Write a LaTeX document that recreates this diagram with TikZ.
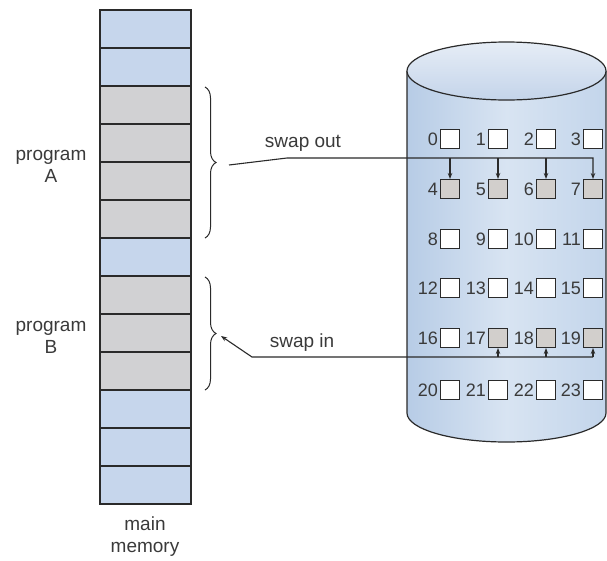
\documentclass[tikz,border=0pt]{standalone}
\usepackage{fontspec}
\setmainfont{Liberation Sans}
\usetikzlibrary{arrows.meta,decorations.pathreplacing}

\definecolor{ink}{HTML}{2A2A2A}
\definecolor{txt}{HTML}{3A3A3A}
\definecolor{memblue}{HTML}{C6D6EC}
\definecolor{memgray}{HTML}{D1D1D3}
\definecolor{cellgray}{HTML}{D2CFCC}
\definecolor{cylleft}{HTML}{B7CCE6}
\definecolor{cylmid}{HTML}{D8E4F2}
\definecolor{cylright}{HTML}{C3D5EB}
\definecolor{toplight}{HTML}{E6EDF6}
\definecolor{topdark}{HTML}{C4D4EA}

\tikzset{
  memrow/.style={draw=ink, line width=1.3pt, minimum width=91pt, minimum height=38pt, inner sep=0pt, outer sep=0pt},
  cell/.style={draw=ink, line width=1pt, fill=white, minimum width=19pt, minimum height=19pt, inner sep=0pt},
  used/.style={fill=cellgray},
  num/.style={text=txt, font=\fontsize{18}{20}\selectfont, inner sep=0pt, anchor=east},
  lbl/.style={text=txt, font=\fontsize{19}{22}\selectfont, align=center, inner sep=0pt},
  brc/.style={draw=ink, line width=1pt, decorate, decoration={brace, amplitude=11pt}},
  conn/.style={draw=ink, line width=1.1pt},
  tip/.style={-{Stealth[length=6pt,width=4.5pt]}}
}

\begin{document}
\begin{tikzpicture}[x=1pt, y=-1pt]
\useasboundingbox (0,0) rectangle (607,560);

% main memory column
\foreach \c [count=\i] in {memblue,memblue,memgray,memgray,memgray,memgray,memblue,memgray,memgray,memgray,memblue,memblue,memblue}
  \node[memrow, fill=\c] (m\i) at (145.5, {10 + 38*(\i-0.5)}) {};

% braces grouping the two programs
\coordinate (a1) at (205,87);
\coordinate (a2) at (205,238);
\coordinate (b1) at (205,277);
\coordinate (b2) at (205,390);
\draw[brc] (a1) -- (a2);
\draw[brc] (b1) -- (b2);

\node[lbl] (pA) at (51,166) {program\\A};
\node[lbl] (pB) at (51,337) {program\\B};
\node[lbl] (mm) at (145,537) {main\\memory};

% backing store cylinder
\shade[left color=cylleft, right color=cylright, middle color=cylmid]
  (407,71) -- (407,413) arc[start angle=180, end angle=360, x radius=99.5pt, y radius=29pt] -- (606,71) -- cycle;
\draw[ink, line width=1.2pt]
  (407,71) -- (407,413) arc[start angle=180, end angle=360, x radius=99.5pt, y radius=29pt] -- (606,71);
\draw[ink, line width=1.2pt, top color=toplight, bottom color=topdark]
  (506.5,71) ellipse[x radius=99.5pt, y radius=29pt];

% blocks of the backing store
\foreach \r in {0,...,5} {
  \foreach \k in {0,...,3} {
    \pgfmathtruncatemacro{\n}{4*\r+\k}
    \pgfmathsetmacro{\yy}{{139,189,239,288,338,390}[\r]}
    \pgfmathsetmacro{\xx}{{450,498,546,593}[\k]}
    \node[cell] (c\n) at (\xx,\yy) {};
    \node[num] (n\n) at ([xshift=-2pt]c\n.west) {\n};
  }
}
\foreach \n in {4,5,6,7,17,18,19} \node[cell, used] at (c\n) {};

% swap out
\coordinate (soStart) at (229,165);
\coordinate (soBend) at (287,158);
\draw[conn, tip] (soStart) -- (soBend) -- (c7.north |- soBend) -- (c7.north);
\foreach \n in {4,5,6} \draw[conn, tip] (c\n.north |- soBend) -- (c\n.north);
\node[lbl] (so) at (303,143) {swap out};

% swap in
\coordinate (siLine) at (0,357);
\coordinate (siBend) at (252,357);
\coordinate (siTip) at (221,336);
\draw[conn, tip] (c19.south |- siLine) -- (siBend) -- (siTip);
\foreach \n in {17,18,19} \draw[conn, tip] (c\n.south |- siLine) -- (c\n.south);
\node[lbl] (si) at (302,343) {swap in};
\end{tikzpicture}
\end{document}
